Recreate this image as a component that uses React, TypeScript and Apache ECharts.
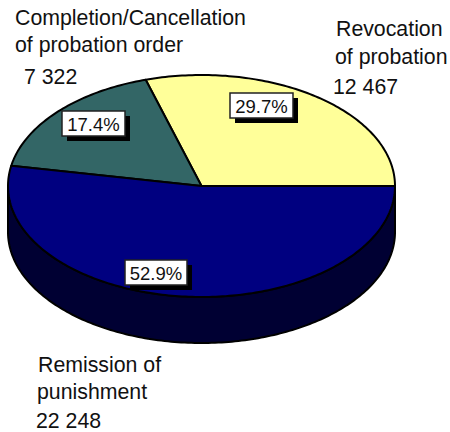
import React, { useEffect, useRef } from "react";
import * as echarts from "echarts";

const categories = ["Revocation of probation", "Completion/Cancellation of probation order", "Remission of punishment"];
const values = [12467, 7322, 22248];
const percentLabels = ["29.7%", "17.4%", "52.9%"];
const valueLabels = ["12 467", "7 322", "22 248"];
const topColors = ["#FFFF99", "#336666", "#000080"];
const sideColors = ["#808050", "#1A3333", "#000033"];

const CX = 201.5, CY = 186, RX = 193.5, RY = 111, DEPTH = 46;
const FONT = "Liberation Sans, Arial, sans-serif";
const TEXT = "#111";

const total = values.reduce((a, b) => a + b, 0);
const pt = (a: number, dy = 0) => [CX + RX * Math.cos(a), CY - RY * Math.sin(a) + dy];

function arc(a0: number, a1: number, dy = 0) {
  const n = Math.max(2, Math.ceil(((a1 - a0) / (2 * Math.PI)) * 360));
  const out: number[][] = [];
  for (let k = 0; k <= n; k++) out.push(pt(a0 + ((a1 - a0) * k) / n, dy));
  return out;
}

function renderSlice(params: any, api: any) {
  const i = params.dataIndex;
  let before = 0;
  for (let k = 0; k < i; k++) before += values[k];
  const a0 = (before / total) * 2 * Math.PI;
  const a1 = ((before + api.value(0)) / total) * 2 * Math.PI;
  const children: any[] = [];
  const s = Math.max(a0, Math.PI), e = Math.min(a1, 2 * Math.PI);
  if (e > s) {
    children.push({
      type: "polygon",
      shape: { points: [...arc(s, e), ...arc(s, e, DEPTH).reverse()] },
      style: { fill: sideColors[i], stroke: "#000", lineWidth: 2, lineJoin: "round" },
    });
  }
  children.push({
    type: "polygon",
    shape: { points: [[CX, CY], ...arc(a0, a1)] },
    style: { fill: topColors[i], stroke: "#000", lineWidth: 2, lineJoin: "round" },
  });
  return { type: "group", children };
}

const boxes = [
  { x: 230, y: 93, w: 63, h: 25 },
  { x: 62, y: 111, w: 63, h: 25 },
  { x: 125, y: 260, w: 62, h: 25 },
];

function percentBox(i: number) {
  const b = boxes[i];
  return [
    { type: "rect", shape: { x: b.x + 5, y: b.y + 5, width: b.w, height: b.h }, style: { fill: "#000" }, z: 10 },
    { type: "rect", shape: { x: b.x, y: b.y, width: b.w, height: b.h }, style: { fill: "#fff", stroke: "#222", lineWidth: 1.5 }, z: 11 },
    {
      type: "text", x: b.x + b.w / 2, y: b.y + b.h / 2 + 0.5, z: 12,
      style: { text: percentLabels[i], fill: TEXT, font: `18.5px ${FONT}`, textAlign: "center", textVerticalAlign: "middle" },
    },
  ];
}

const outer = [
  { t: "Completion/Cancellation", x: 15, y: 18 },
  { t: "of probation order", x: 15, y: 45 },
  { t: valueLabels[1], x: 24, y: 77 },
  { t: "Revocation", x: 336, y: 29 },
  { t: "of probation", x: 335, y: 57 },
  { t: valueLabels[0], x: 333, y: 87 },
  { t: "Remission of", x: 38, y: 365 },
  { t: "punishment", x: 37, y: 392 },
  { t: valueLabels[2], x: 36, y: 421 },
];

export default function App() {
  const ref = useRef<HTMLDivElement>(null);
  useEffect(() => {
    const chart = echarts.init(ref.current!, null, { renderer: "svg" });
    chart.setOption({
      animation: false,
      backgroundColor: "#fff",
      series: [
        {
          type: "custom",
          coordinateSystem: "none",
          silent: true,
          data: values.map((v, i) => ({ name: categories[i], value: [v] })),
          renderItem: renderSlice,
        },
      ],
      graphic: [
        ...percentBox(0),
        ...percentBox(1),
        ...percentBox(2),
        ...outer.map((o) => ({
          type: "text", x: o.x, y: o.y, z: 12,
          style: { text: o.t, fill: TEXT, font: `21.3px ${FONT}`, textAlign: "left", textVerticalAlign: "middle" },
        })),
      ],
    });
    return () => chart.dispose();
  }, []);
  return <div ref={ref} style={{ position: "fixed", left: 0, top: 0, width: 450, height: 432 }} />;
}
